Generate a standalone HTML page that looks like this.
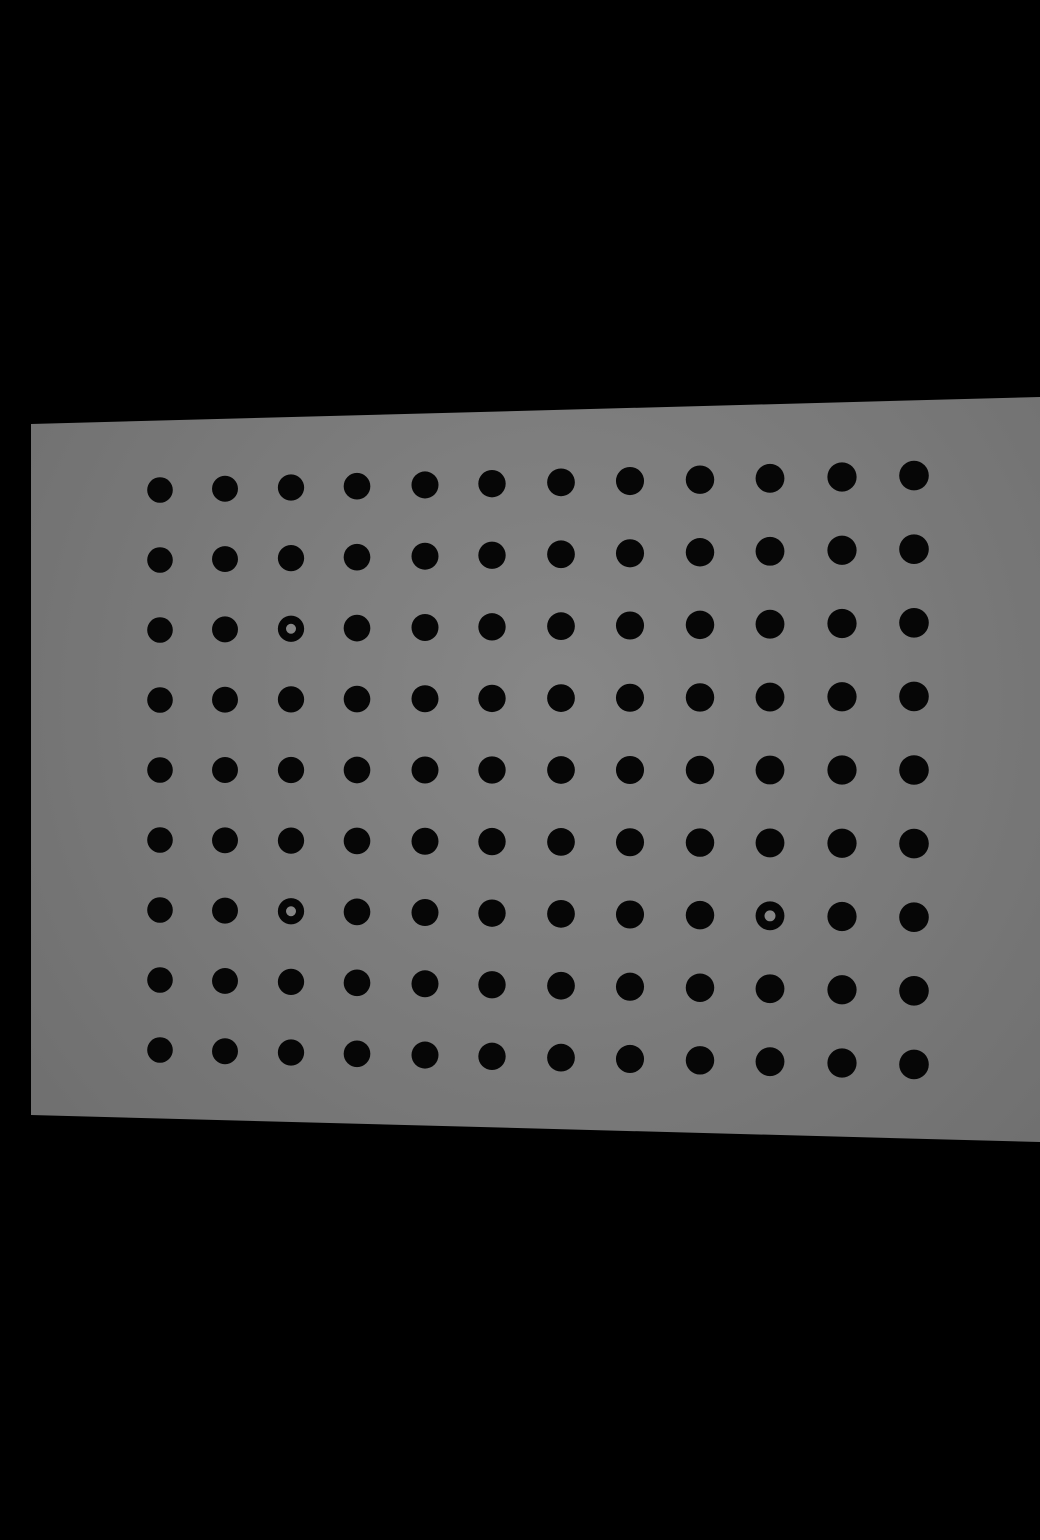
<!DOCTYPE html>
<html><head><meta charset="utf-8">
<style>html,body{margin:0;padding:0;background:#000;width:1040px;height:1540px;overflow:hidden}</style>
</head><body>
<svg id="s" width="1040" height="1540" viewBox="0 0 1040 1540">
<defs>
<radialGradient id="g" cx="560" cy="700" r="650" gradientUnits="userSpaceOnUse">
<stop offset="0" stop-color="#878787"/><stop offset="1" stop-color="#707070"/>
</radialGradient>
</defs>
<rect width="1040" height="1540" fill="#000"/>
<polygon points="31,424 1040,397 1040,1142 31,1115" fill="url(#g)"/>
<g id="dots"></g>
</svg>
<script>
const colX = [160,225,291,357,425,492,561,630,700,770,842,914];
const rows = [0,1,2,3,4,5,6,7,8];
const rings = [[2,2],[6,2],[6,9]];
const NS='http://www.w3.org/2000/svg';
const g=document.getElementById('dots');
function pos(r,c){
  const t=(colX[c]-colX[0])/(colX[colX.length-1]-colX[0]);
  const sp=70+3.6*t;
  return {x:colX[c], y:770+(r-4)*sp, rad:12.8+2*t};
}
rows.forEach(r=>{
  colX.forEach((_,c)=>{
    const p=pos(r,c);
    const isRing=rings.some(q=>q[0]===r&&q[1]===c);
    const d=document.createElementNS(NS,'circle');
    d.setAttribute('cx',p.x);d.setAttribute('cy',p.y);d.setAttribute('r',p.rad);
    d.setAttribute('fill','#060606');
    
    
    g.appendChild(d);
    if(isRing){
      const h=document.createElementNS(NS,'circle');
      h.setAttribute('cx',p.x);h.setAttribute('cy',p.y);h.setAttribute('r',p.rad*0.38);
      h.setAttribute('fill','#858585');
      
      
      g.appendChild(h);
    }
  });
});
</script>
</body></html>
